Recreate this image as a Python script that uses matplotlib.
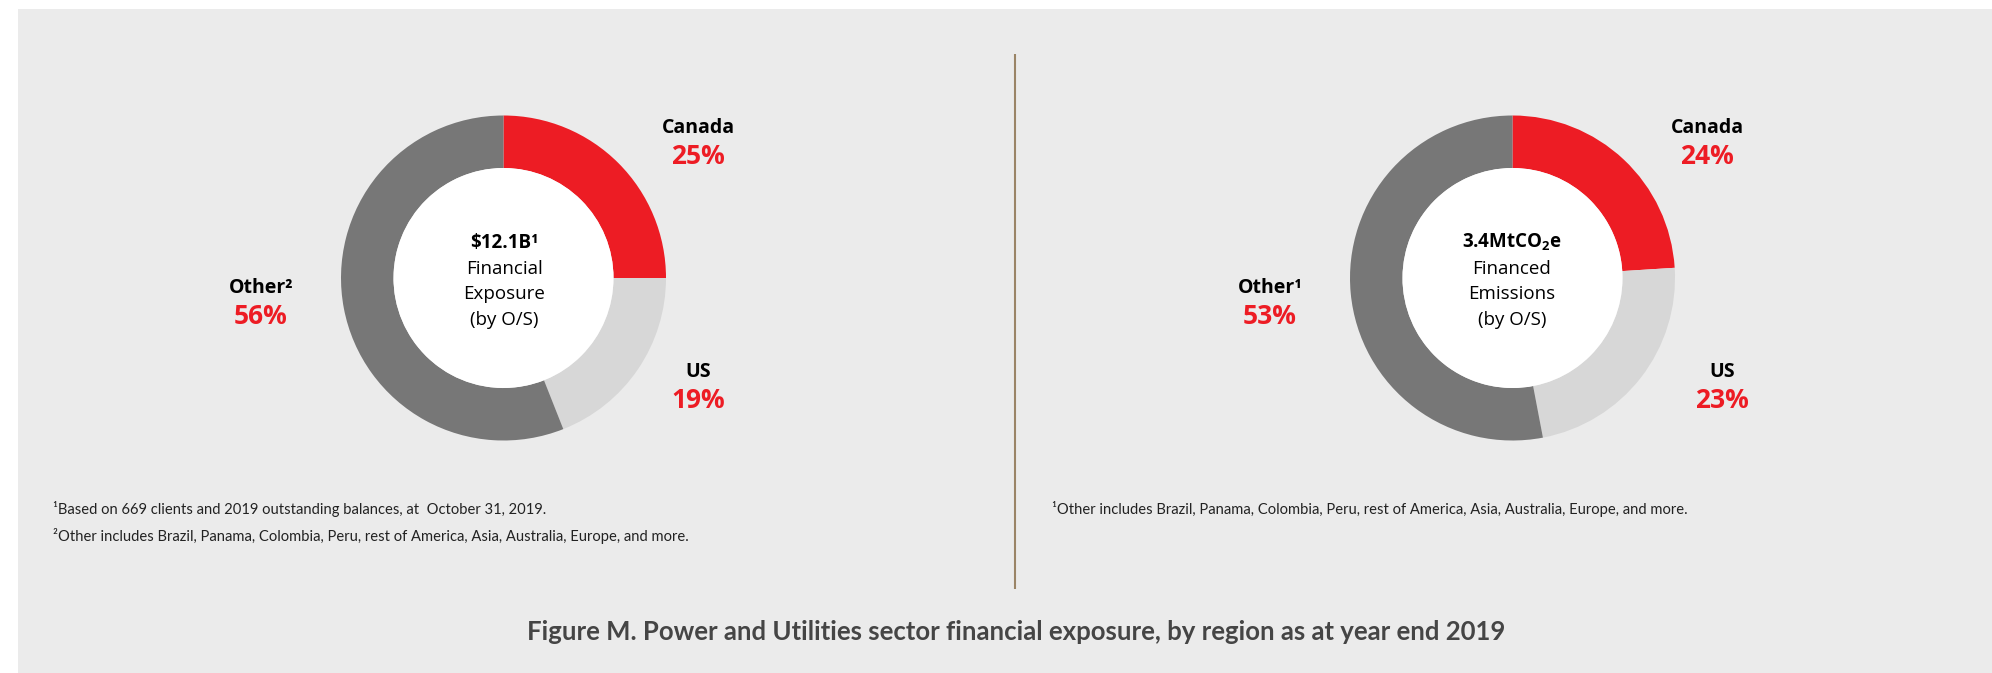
import matplotlib
matplotlib.use("Agg")
import matplotlib.pyplot as plt
from matplotlib.patches import Circle, Rectangle

# ---- data ----
regions = ["Canada", "US", "Other"]
exposure_pct = [25, 19, 56]
emissions_pct = [24, 23, 53]
label_names_left = ["Canada", "US", "Other²"]
label_names_right = ["Canada", "US", "Other¹"]
center_left = ["$12.1B¹", "Financial", "Exposure", "(by O/S)"]
center_right = [r"$\mathregular{3.4MtCO_2e}$", "Financed", "Emissions", "(by O/S)"]
foot_left = ["¹Based on 669 clients and 2019 outstanding balances, at  October 31, 2019.",
             "²Other includes Brazil, Panama, Colombia, Peru, rest of America, Asia, Australia, Europe, and more."]
foot_right = ["¹Other includes Brazil, Panama, Colombia, Peru, rest of America, Asia, Australia, Europe, and more."]
title = "Figure M. Power and Utilities sector financial exposure, by region as at year end 2019"

# ---- style ----
RED = "#ED1C24"
DARK = "#777777"
LIGHT = "#D7D7D7"
BG = "#EBEBEB"
colors = [RED, LIGHT, DARK]
W, H = 1992, 673

fig = plt.figure(figsize=(W / 100, H / 100), dpi=100)
fig.patch.set_facecolor("white")
ax = fig.add_axes([0, 0, 1, 1])

def Y(y):
    return H - y

ax.add_patch(Rectangle((18, 0), W - 18, H - 9, facecolor=BG, edgecolor="none", zorder=0))

R_OUT, R_IN = 162.5, 110
CY = 278

def donut(cx, vals):
    ax.pie(vals, colors=colors, startangle=90, counterclock=False, radius=R_OUT,
           center=(cx, Y(CY)), wedgeprops=dict(width=R_OUT - R_IN, linewidth=0),
           frame=True)
    ax.add_patch(Circle((cx, Y(CY)), R_IN, facecolor="white", edgecolor="none", zorder=3))

donut(503.5, exposure_pct)
donut(1512.5, emissions_pct)

LBL = dict(family="Open Sans", fontweight="bold", ha="center", va="baseline")

def labels(pos, names, vals):
    for (x, yb), n, v in zip(pos, names, vals):
        ax.text(x, Y(yb), n, fontsize=14, color="black", **LBL)
        ax.text(x, Y(yb + 31), f"{v}%", fontsize=19, color=RED, **LBL)

labels([(698, 133), (698, 377), (261, 293)], label_names_left, exposure_pct)
labels([(1707, 133), (1722, 377), (1270, 293)], label_names_right, emissions_pct)

def center_text(cx, lines):
    base = 248
    for i, t in enumerate(lines):
        ax.text(cx, Y(base + i * 25.7), t, family="Open Sans",
                fontweight="bold" if i == 0 else "normal", fontsize=13.5,
                ha="center", va="baseline", color="black", zorder=5,
                parse_math=(i == 0 and t.startswith("$\\")))

center_text(504, center_left)
center_text(1512, center_right)

# divider
ax.plot([1015, 1015], [Y(54), Y(589)], color="#9A8466", lw=1.5, solid_capstyle="butt")

FN = dict(family="Lato", fontsize=10.6, color="#222222", ha="left", va="center")
for i, t in enumerate(foot_left):
    ax.text(53, Y(509 + i * 27.5), t, **FN)
for t in foot_right:
    ax.text(1052, Y(509), t, **FN)

ax.text(1016, Y(632), title, family="Lato", fontweight="bold", fontsize=18.5,
        color="#454545", ha="center", va="center")

ax.set_xlim(0, W)
ax.set_ylim(0, H)
ax.set_aspect("equal")
ax.axis("off")
fig.savefig("out.png", dpi=100, facecolor=fig.get_facecolor())
